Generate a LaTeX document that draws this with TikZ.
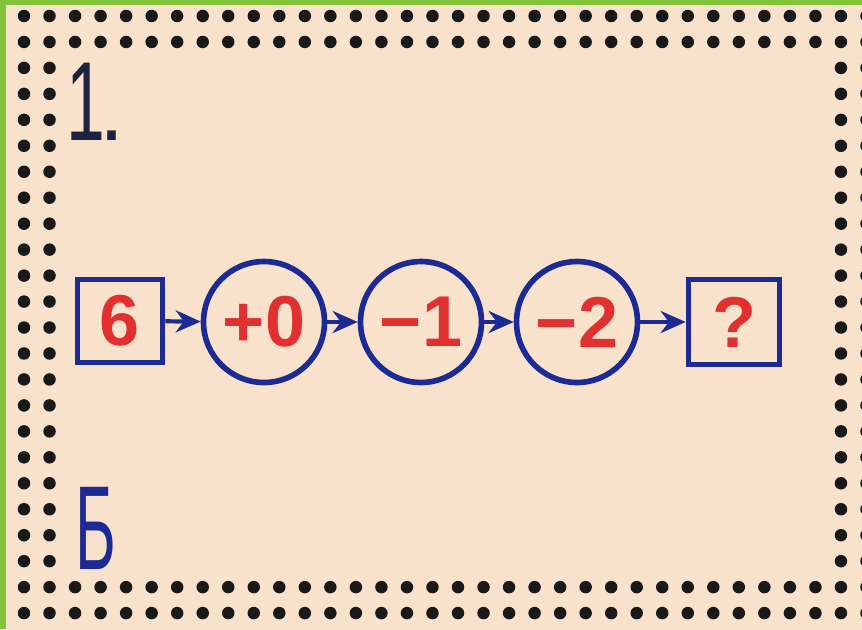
\documentclass[tikz,border=0pt]{standalone}
\usepackage{fontspec}
\setmainfont{Liberation Sans}
\usepackage{tikz}
\usetikzlibrary{arrows.meta}
\definecolor{ink}{RGB}{28,42,150}
\definecolor{rd}{RGB}{226,48,48}
\definecolor{card}{RGB}{249,226,203}
\definecolor{leaf}{RGB}{132,196,58}
\definecolor{pen}{RGB}{30,34,62}
\tikzset{
  >={Stealth[length=5mm,width=4.4mm]},
  ring/.style={circle,draw=ink,line width=3.2pt,minimum size=2.42cm,inner sep=0pt,text=rd,font=\fontsize{41}{41}\bfseries\selectfont},
  box/.style={rectangle,draw=ink,line width=3.2pt,minimum width=1.7cm,minimum height=1.66cm,inner sep=0pt,text=rd,font=\fontsize{41}{41}\bfseries\selectfont},
  hole/.style={fill=black!90},
  every picture/.style={line width=2.4pt},
}
\begin{document}
\begin{tikzpicture}[x=0.02cm,y=-0.02cm]
\useasboundingbox (0,0) rectangle (862,629); \clip (0,0) rectangle (862,629);
\fill[leaf] (0,0) rectangle (862,629); \fill[card] (6,5) rectangle (880,640);
\foreach \i in {0,...,33} \foreach \j in {0,1,22,23} \fill[hole] (24+25.53*\i,16+25.96*\j) circle (0.125cm);
\foreach \i in {0,1,32,33} \foreach \j in {2,...,21} \fill[hole] (24+25.53*\i,16+25.96*\j) circle (0.125cm);
\node[anchor=base west,inner sep=0pt,text=pen,font=\fontsize{64}{64}\selectfont] (nr) at (64,140) {\scalebox{0.62}[1]{1}\kern-0.05em\scalebox{0.8}{.}};
\node[text=ink,font=\fontsize{68}{68}\selectfont] (let) at (96,528) {\scalebox{0.52}[1]{Б}};
\node[box] (six) at (120,321) {6}; \node[ring] (p0) at (264,322) {+0};
\node[ring] (m1) at (421,322) {−1}; \node[ring] (m2) at (577,322) {−2};
\node[box,minimum width=1.82cm,minimum height=1.7cm] (q) at (734,322) {?};
\draw[->,ink] (six)--(p0); \draw[->,ink] (p0)--(m1); \draw[->,ink] (m1)--(m2); \draw[->,ink] (m2)--(q);
\end{tikzpicture}
\end{document}
